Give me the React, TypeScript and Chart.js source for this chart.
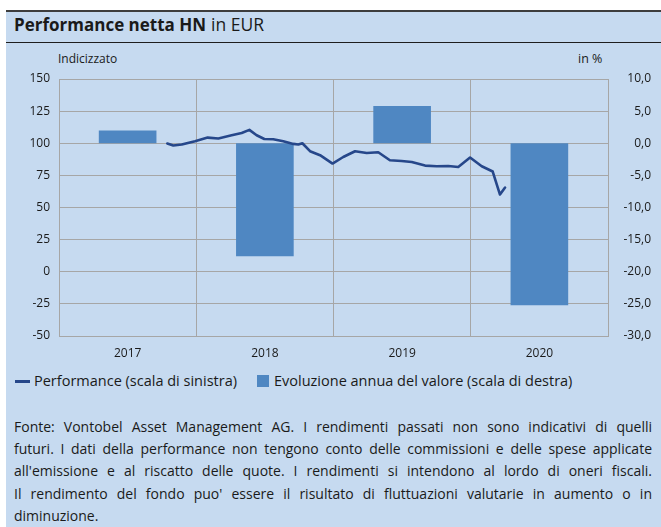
import React, { useEffect, useRef } from 'react';
import { Chart, registerables } from 'chart.js';

Chart.register(...registerables);

// ---- data ----
const categories = ['2017', '2018', '2019', '2020'];
const annualReturns = [2.0, -17.6, 5.8, -25.2]; // % (right scale)
const lineYears = [
  2017.789, 2017.833, 2017.894, 2017.991, 2018.083, 2018.161, 2018.258, 2018.331, 2018.387,
  2018.44, 2018.496, 2018.561, 2018.634, 2018.707, 2018.744, 2018.773, 2018.829, 2018.902,
  2018.993, 2019.071, 2019.157, 2019.242, 2019.326, 2019.411, 2019.496, 2019.57, 2019.667,
  2019.752, 2019.836, 2019.909, 2019.995, 2020.08, 2020.16, 2020.213, 2020.25,
];
const lineValues = [
  99.8, 98.2, 99.0, 101.6, 104.4, 103.7, 106.2, 108.0, 110.4,
  106.2, 103.3, 103.1, 101.6, 99.5, 99.0, 100.0, 93.8, 90.7,
  84.2, 89.3, 93.8, 92.4, 93.0, 86.8, 86.2, 85.4, 82.6,
  82.1, 82.3, 81.5, 88.9, 82.1, 78.0, 60.1, 65.5,
];
const leftAxisRange = [-50, 150, 25];
const rightAxisRange = [-30, 10, 5];

const footerLines = [
  'Fonte: Vontobel Asset Management AG. I rendimenti passati non sono indicativi di quelli',
  'futuri. I dati della performance non tengono conto delle commissioni e delle spese applicate',
  "all'emissione e al riscatto delle quote. I rendimenti si intendono al lordo di oneri fiscali.",
  "Il rendimento del fondo puo' essere il risultato di fluttuazioni valutarie in aumento o in",
  'diminuzione.',
];

const BG = '#C6DAF0';
const BAR = '#4F87C2';
const LINE = '#26478A';
const GRID = '#A6A6A6';
const FONT = "'Open Sans', 'Noto Sans', sans-serif";
const TEXT = '#1a1a1a';

export default function App() {
  const ref = useRef<HTMLCanvasElement>(null);

  useEffect(() => {
    const tickFont = { family: FONT, size: 12 };
    const chart = new Chart(ref.current!, {
      type: 'bar',
      data: {
        labels: categories,
        datasets: [
          {
            type: 'line',
            label: 'Performance (scala di sinistra)',
            data: lineYears.map((x, i) => ({ x, y: lineValues[i] })),
            xAxisID: 'xl',
            yAxisID: 'y',
            borderColor: LINE,
            backgroundColor: LINE,
            borderWidth: 2.6,
            pointRadius: 0,
            tension: 0,
            borderJoinStyle: 'round',
            borderCapStyle: 'round',
            order: 0,
          } as any,
          {
            type: 'bar',
            label: 'Evoluzione annua del valore (scala di destra)',
            data: annualReturns,
            xAxisID: 'x',
            yAxisID: 'y2',
            backgroundColor: BAR,
            barPercentage: 0.42,
            categoryPercentage: 1,
            grouped: false,
            order: 1,
          } as any,
        ],
      },
      options: {
        animation: false,
        responsive: true,
        maintainAspectRatio: false,
        layout: { padding: { top: 36, right: 10, left: 0, bottom: 0 } },
        plugins: { legend: { display: false }, tooltip: { enabled: false } },
        scales: {
          x: {
            type: 'category',
            offset: true,
            grid: { offset: true, color: GRID, drawTicks: false, lineWidth: 1 },
            border: { display: true, color: GRID },
            ticks: { padding: 10, font: tickFont, color: TEXT },
            afterFit: (s: any) => {
              s.height = 29;
            },
          },
          xl: {
            type: 'linear',
            display: false,
            offset: false,
            grid: { offset: false },
            min: 2017,
            max: 2021,
          },
          y: {
            position: 'left',
            min: leftAxisRange[0],
            max: leftAxisRange[1],
            ticks: { stepSize: leftAxisRange[2], padding: 9, font: tickFont, color: TEXT },
            grid: { color: GRID, drawTicks: false, lineWidth: 1 },
            border: { display: true, color: GRID },
            afterFit: (s: any) => {
              s.width = 53;
            },
          },
          y2: {
            position: 'right',
            min: rightAxisRange[0],
            max: rightAxisRange[1],
            ticks: {
              stepSize: rightAxisRange[2],
              padding: 8,
              crossAlign: 'far',
              font: tickFont,
              color: TEXT,
              callback: (v: any) => Number(v).toFixed(1).replace('.', ','),
            },
            grid: { display: false, drawTicks: false },
            border: { display: true, color: GRID },
            afterFit: (s: any) => {
              s.width = 43;
            },
          },
        } as any,
      },
    });
    return () => chart.destroy();
  }, []);

  return (
    <div
      style={{
        position: 'fixed',
        left: 0,
        top: 0,
        width: 661,
        height: 527,
        background: '#fff',
        overflow: 'hidden',
        fontFamily: FONT,
        color: TEXT,
      }}
    >
      <div
        style={{
          position: 'absolute',
          left: 6,
          top: 10,
          width: 655,
          height: 517,
          background: BG,
          borderTop: '2px solid #3d3d3d',
          boxSizing: 'border-box',
        }}
      />
      <div
        style={{ position: 'absolute', left: 6, top: 42, width: 655, height: 1, background: '#1e1e1e' }}
      />
      <div
        style={{
          position: 'absolute',
          left: 14,
          top: 13,
          lineHeight: '22px',
          fontSize: 17,
          whiteSpace: 'nowrap',
        }}
      >
        <span style={{ fontWeight: 700 }}>Performance netta HN</span>
        <span style={{ fontWeight: 400, fontSize: 17.5, marginLeft: 5 }}>in EUR</span>
      </div>
      <div style={{ position: 'absolute', left: 58, top: 51, fontSize: 12, lineHeight: '16px' }}>
        Indicizzato
      </div>
      <div style={{ position: 'absolute', left: 578, top: 51, fontSize: 12.5, lineHeight: '16px' }}>
        in %
      </div>
      <div style={{ position: 'absolute', left: 6, top: 43, width: 655, height: 322 }}>
        <canvas ref={ref} />
      </div>
      {/* legend */}
      <div
        style={{ position: 'absolute', left: 15, top: 380, width: 15, height: 3, background: LINE }}
      />
      <div
        style={{
          position: 'absolute',
          left: 34,
          top: 371,
          fontSize: 14.5,
          lineHeight: '20px',
          whiteSpace: 'nowrap',
        }}
      >
        Performance (scala di sinistra)
      </div>
      <div
        style={{ position: 'absolute', left: 257, top: 375, width: 12, height: 12, background: BAR }}
      />
      <div
        style={{
          position: 'absolute',
          left: 274,
          top: 371,
          fontSize: 14.5,
          lineHeight: '20px',
          whiteSpace: 'nowrap',
        }}
      >
        Evoluzione annua del valore (scala di destra)
      </div>
      {/* footer */}
      <div style={{ position: 'absolute', left: 14, top: 416, width: 638, fontSize: 14 }}>
        {footerLines.map((t, i) => (
          <div
            key={i}
            style={{
              lineHeight: '22.2px',
              height: 22.2,
              textAlign: 'justify',
              textAlignLast: i < footerLines.length - 1 ? 'justify' : 'left',
              whiteSpace: 'nowrap',
            }}
          >
            {t}
          </div>
        ))}
      </div>
    </div>
  );
}
